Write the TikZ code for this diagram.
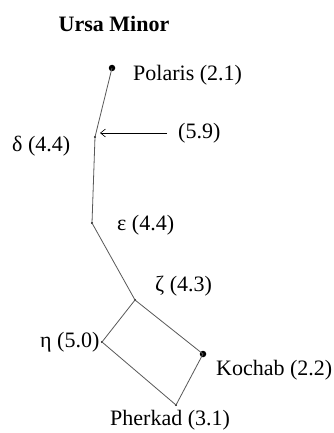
\documentclass[tikz,border=0pt]{standalone}
\usepackage{fontspec}
\setmainfont{Liberation Serif}
\usetikzlibrary{arrows.meta}

\tikzset{
    star/.style={fill=black, circle, inner sep=0pt, minimum size=2.4pt},
    bright/.style={fill=black, circle, inner sep=0pt, minimum size=6.5pt},
    lbl/.style={inner sep=0pt, anchor=west, font=\fontsize{22}{26}\selectfont},
    link/.style={draw=black!65, line width=0.8pt}
}

\begin{document}
\begin{tikzpicture}[x=1pt, y=-1pt]
    \useasboundingbox[fill=white] (0,0) rectangle (333,433);

    % stars
    \node[bright] (polaris) at (112,68) {};
    \node[star] (delta) at (95,137) {};
    \coordinate (faint) at (100,133);
    \node[star] (epsilon) at (92,223) {};
    \node[star] (zeta) at (135,300) {};
    \node[star] (eta) at (102,342) {};
    \node[bright] (kochab) at (203,354) {};
    \node[star] (pherkad) at (176,405) {};

    % figure
    \draw[link] (polaris.center) -- (delta.center) -- (epsilon.center) -- (zeta.center);
    \draw[link] (zeta.center) -- (kochab.center) -- (pherkad.center) -- (eta.center) -- (zeta.center);

    % labels
    \node[inner sep=0pt, font=\fontsize{22}{26}\selectfont\bfseries] (title) at (114,24) {Ursa Minor};
    \node[lbl] (lpolaris) at (133,75) {Polaris (2.1)};
    \node[lbl] (ldelta) at (12,146) {δ (4.4)};
    \node[lbl] (lfaint) at (178,133) {(5.9)};
    \node[lbl] (lepsilon) at (117,225) {ε (4.4)};
    \node[lbl] (lzeta) at (155,286) {ζ (4.3)};
    \node[lbl] (leta) at (40,342) {η (5.0)};
    \node[lbl] (lkochab) at (216,370) {Kochab (2.2)};
    \node[lbl] (lpherkad) at (110,420) {Pherkad (3.1)};

    % pointer to the faint star
    \coordinate (tail) at (167,133);
    \draw[-{Straight Barb[length=5pt, width=8pt]}, line width=0.6pt] (tail) -- (faint);
\end{tikzpicture}
\end{document}
